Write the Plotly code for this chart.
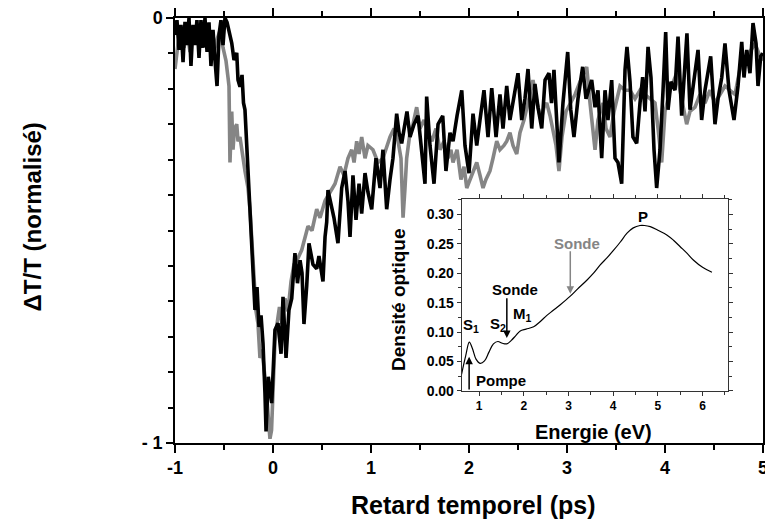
import plotly.graph_objects as go

# Main panel: pump-probe transients (normalised)

# black trace
t_black = [
    -1.000, -0.980, -0.959, -0.939, -0.918, -0.898, -0.878, -0.857, -0.837, -0.816,
    -0.796, -0.776, -0.755, -0.735, -0.714, -0.694, -0.673, -0.653, -0.633, -0.612,
    -0.592, -0.571, -0.551, -0.531, -0.510, -0.490, -0.469, -0.449, -0.421, -0.398,
    -0.370, -0.357, -0.337, -0.316, -0.301, -0.286, -0.268, -0.255, -0.235, -0.217,
    -0.201, -0.184, -0.163, -0.143, -0.122, -0.102, -0.082, -0.071, -0.048, -0.013,
    0.020, 0.051, 0.082, 0.102, 0.133, 0.163, 0.191, 0.224, 0.250, 0.276,
    0.296, 0.316, 0.344, 0.367, 0.408, 0.446, 0.469, 0.510, 0.531, 0.548,
    0.561, 0.599, 0.622, 0.663, 0.701, 0.735, 0.765, 0.786, 0.816, 0.847,
    0.878, 0.905, 0.939, 0.969, 1.007, 1.051, 1.092, 1.122, 1.160, 1.194,
    1.224, 1.262, 1.286, 1.313, 1.347, 1.367, 1.398, 1.439, 1.480, 1.510,
    1.551, 1.568, 1.602, 1.643, 1.684, 1.732, 1.765, 1.806, 1.837, 1.878,
    1.926, 1.959, 2.000, 2.041, 2.079, 2.112, 2.153, 2.194, 2.232, 2.276,
    2.316, 2.347, 2.385, 2.418, 2.459, 2.500, 2.538, 2.571, 2.602, 2.640,
    2.673, 2.704, 2.742, 2.776, 2.816, 2.842, 2.867, 2.893, 2.918, 2.959,
    3.007, 3.038, 3.071, 3.112, 3.160, 3.194, 3.252, 3.286, 3.316, 3.354,
    3.388, 3.418, 3.456, 3.490, 3.520, 3.558, 3.592, 3.612, 3.643, 3.673,
    3.711, 3.745, 3.772, 3.796, 3.827, 3.857, 3.888, 3.915, 3.949, 3.980,
    4.007, 4.031, 4.061, 4.102, 4.133, 4.170, 4.194, 4.224, 4.255, 4.296,
    4.337, 4.374, 4.408, 4.466, 4.510, 4.541, 4.579, 4.612, 4.653, 4.704,
    4.745, 4.783, 4.806, 4.834, 4.867, 4.898, 4.929, 4.949, 4.977, 5.000,
]
dt_black = [
    -0.040, -0.005, -0.075, -0.016, -0.104, -0.009, -0.064, 0.000, -0.113, -0.016,
    -0.064, -0.005, -0.094, -0.005, -0.070, 0.000, -0.080, -0.010, -0.113, -0.028,
    -0.099, -0.160, -0.040, -0.005, -0.064, 0.000, -0.010, -0.028, -0.059, -0.099,
    -0.082, -0.146, -0.162, -0.134, -0.200, -0.216, -0.294, -0.358, -0.452, -0.529,
    -0.609, -0.687, -0.633, -0.727, -0.700, -0.765, -0.882, -0.973, -0.844, -0.906,
    -0.734, -0.718, -0.790, -0.656, -0.800, -0.687, -0.660, -0.553, -0.624, -0.570,
    -0.600, -0.720, -0.630, -0.530, -0.580, -0.590, -0.560, -0.620, -0.515, -0.480,
    -0.405, -0.450, -0.470, -0.530, -0.400, -0.360, -0.430, -0.515, -0.370, -0.475,
    -0.390, -0.460, -0.365, -0.410, -0.450, -0.330, -0.400, -0.310, -0.450, -0.380,
    -0.330, -0.225, -0.270, -0.295, -0.250, -0.220, -0.280, -0.250, -0.230, -0.290,
    -0.390, -0.185, -0.300, -0.390, -0.250, -0.230, -0.360, -0.270, -0.290, -0.230,
    -0.170, -0.300, -0.365, -0.225, -0.300, -0.240, -0.170, -0.280, -0.165, -0.280,
    -0.180, -0.260, -0.160, -0.240, -0.190, -0.130, -0.240, -0.190, -0.120, -0.260,
    -0.155, -0.210, -0.260, -0.146, -0.130, -0.200, -0.122, -0.240, -0.340, -0.200,
    -0.080, -0.215, -0.280, -0.190, -0.115, -0.190, -0.146, -0.210, -0.170, -0.330,
    -0.170, -0.240, -0.146, -0.330, -0.340, -0.390, -0.122, -0.068, -0.150, -0.280,
    -0.295, -0.200, -0.139, -0.220, -0.068, -0.140, -0.310, -0.400, -0.310, -0.170,
    -0.033, -0.216, -0.150, -0.170, -0.044, -0.230, -0.150, -0.036, -0.216, -0.150,
    -0.075, -0.240, -0.170, -0.090, -0.250, -0.190, -0.140, -0.060, -0.170, -0.240,
    -0.160, -0.056, -0.140, -0.075, -0.130, -0.012, -0.060, -0.160, -0.090, -0.083,
]

# grey trace
t_grey = [
    -1.000, -0.969, -0.939, -0.908, -0.878, -0.847, -0.816, -0.786, -0.755, -0.724,
    -0.694, -0.663, -0.633, -0.602, -0.571, -0.541, -0.510, -0.480, -0.459, -0.449,
    -0.439, -0.421, -0.408, -0.393, -0.370, -0.357, -0.337, -0.319, -0.301, -0.286,
    -0.255, -0.235, -0.214, -0.194, -0.173, -0.153, -0.133, -0.112, -0.092, -0.071,
    -0.051, -0.031, -0.015, 0.000, 0.020, 0.041, 0.066, 0.092, 0.122, 0.153,
    0.184, 0.214, 0.245, 0.293, 0.327, 0.357, 0.398, 0.446, 0.480, 0.531,
    0.582, 0.633, 0.684, 0.724, 0.765, 0.803, 0.827, 0.854, 0.878, 0.905,
    0.939, 0.969, 1.020, 1.071, 1.122, 1.163, 1.194, 1.235, 1.276, 1.306,
    1.327, 1.347, 1.364, 1.398, 1.429, 1.466, 1.500, 1.541, 1.582, 1.622,
    1.663, 1.704, 1.745, 1.786, 1.816, 1.837, 1.878, 1.918, 1.949, 1.977,
    2.010, 2.041, 2.079, 2.112, 2.143, 2.173, 2.214, 2.245, 2.283, 2.316,
    2.357, 2.385, 2.418, 2.449, 2.487, 2.520, 2.561, 2.602, 2.653, 2.694,
    2.735, 2.765, 2.793, 2.827, 2.857, 2.888, 2.918, 2.949, 2.990, 3.031,
    3.082, 3.133, 3.201, 3.235, 3.265, 3.286, 3.316, 3.367, 3.398, 3.439,
    3.480, 3.541, 3.592, 3.643, 3.694, 3.745, 3.796, 3.847, 3.898, 3.929,
    3.966, 4.000, 4.051, 4.119, 4.153, 4.184, 4.221, 4.255, 4.306, 4.357,
    4.408, 4.459, 4.510, 4.561, 4.612, 4.663, 4.714, 4.765, 4.816, 4.867,
    4.918, 4.969, 5.000,
]
dt_grey = [
    -0.120, -0.060, -0.020, -0.070, -0.030, -0.080, -0.020, -0.060, -0.030, -0.070,
    -0.020, -0.060, -0.030, -0.080, -0.050, -0.030, -0.070, -0.100, -0.140, -0.160,
    -0.340, -0.220, -0.310, -0.260, -0.250, -0.290, -0.280, -0.310, -0.330, -0.360,
    -0.400, -0.450, -0.530, -0.620, -0.690, -0.720, -0.800, -0.780, -0.820, -0.870,
    -0.930, -0.990, -0.970, -0.850, -0.760, -0.720, -0.680, -0.720, -0.660, -0.690,
    -0.620, -0.580, -0.570, -0.546, -0.520, -0.490, -0.500, -0.450, -0.470, -0.430,
    -0.410, -0.390, -0.350, -0.370, -0.330, -0.310, -0.340, -0.290, -0.320, -0.280,
    -0.330, -0.300, -0.310, -0.340, -0.330, -0.300, -0.280, -0.260, -0.290, -0.330,
    -0.470, -0.400, -0.330, -0.270, -0.250, -0.210, -0.260, -0.240, -0.270, -0.290,
    -0.260, -0.310, -0.290, -0.330, -0.310, -0.340, -0.310, -0.380, -0.350, -0.400,
    -0.380, -0.360, -0.340, -0.370, -0.400, -0.380, -0.360, -0.330, -0.290, -0.310,
    -0.300, -0.290, -0.270, -0.300, -0.320, -0.270, -0.240, -0.200, -0.146, -0.200,
    -0.240, -0.210, -0.200, -0.230, -0.260, -0.300, -0.360, -0.280, -0.220, -0.200,
    -0.180, -0.150, -0.115, -0.200, -0.260, -0.310, -0.240, -0.200, -0.260, -0.280,
    -0.220, -0.160, -0.170, -0.170, -0.190, -0.170, -0.180, -0.190, -0.200, -0.260,
    -0.340, -0.220, -0.170, -0.130, -0.170, -0.210, -0.250, -0.220, -0.210, -0.180,
    -0.200, -0.170, -0.200, -0.180, -0.160, -0.170, -0.180, -0.120, -0.100, -0.080,
    -0.060, -0.090, -0.100,
]

# Inset: absorption spectrum
energy = [0.60, 0.70, 0.78, 0.85, 0.93, 1.02, 1.12, 1.22, 1.32, 1.42,
          1.52, 1.62, 1.72, 1.82, 1.92, 2.05, 2.22, 2.37, 2.51, 2.66,
          2.81, 3.04, 3.20, 3.41, 3.56, 3.71, 3.86, 4.01, 4.16, 4.31,
          4.45, 4.60, 4.70, 4.83, 5.00, 5.20, 5.35, 5.50, 5.65, 5.80,
          6.00, 6.21]
optical_density = [0.026, 0.060, 0.083, 0.072, 0.054, 0.047, 0.051, 0.066, 0.080, 0.084,
                   0.081, 0.080, 0.086, 0.094, 0.102, 0.105, 0.109, 0.118, 0.128, 0.137,
                   0.146, 0.161, 0.173, 0.188, 0.200, 0.214, 0.226, 0.239, 0.253, 0.268,
                   0.277, 0.281, 0.281, 0.279, 0.273, 0.265, 0.256, 0.245, 0.234, 0.222,
                   0.210, 0.2015]

time_ticks = [-1, 0, 1, 2, 3, 4, 5]
time_labels = ["-1", "0", "1", "2", "3", "4", "5"]

BLACK = "#000000"
GREY = "#858585"
FONT = "Liberation Sans, Arial, sans-serif"

fig = go.Figure()
fig.add_trace(go.Scatter(x=t_grey, y=dt_grey, mode="lines",
                         line=dict(color=GREY, width=3.6), xaxis="x", yaxis="y"))
fig.add_trace(go.Scatter(x=t_black, y=dt_black, mode="lines",
                         line=dict(color=BLACK, width=3.6), xaxis="x", yaxis="y"))
fig.add_trace(go.Scatter(x=energy, y=optical_density, mode="lines", line_shape="spline",
                         line=dict(color=BLACK, width=1.2), xaxis="x2", yaxis="y2"))

main_axis = dict(showline=True, linecolor=BLACK, linewidth=1.5, mirror="ticks",
                 ticks="outside", tickcolor=BLACK, tickwidth=1.5, showgrid=False,
                 zeroline=False, automargin=False, ticklabeloverflow="allow",
                 tickfont=dict(family=FONT, size=18, color=BLACK, weight="bold"))

inset_axis = dict(showline=True, linecolor="#333333", linewidth=1, mirror="ticks",
                  ticks="outside", tickcolor="#333333", tickwidth=1, ticklen=4,
                  showgrid=False, zeroline=False, automargin=False)

fig.update_layout(
    width=765, height=527,
    margin=dict(l=175, r=2, t=18, b=84, autoexpand=False),
    paper_bgcolor="white", plot_bgcolor="white",
    showlegend=False,
    xaxis=dict(main_axis, range=[-1, 5], tickvals=time_ticks, ticktext=time_labels, ticklen=8,
               minor=dict(dtick=0.5, ticklen=5, ticks="outside", tickcolor=BLACK, tickwidth=1.5)),
    yaxis=dict(main_axis, range=[-1, 0], tickvals=[0, -1], ticktext=["0", "- 1"], ticklen=7,
               minor=dict(tickvals=[-k / 12 for k in range(13)], ticklen=5, ticks="outside",
                          tickcolor=BLACK, tickwidth=1.5)),
    xaxis2=dict(inset_axis, domain=[0.4876, 0.9405], anchor="y2", range=[0.61, 6.57],
                dtick=1, tick0=0,
                tickfont=dict(family=FONT, size=12, color=BLACK, weight="bold"),
                minor=dict(dtick=0.5, ticklen=3, ticks="outside", tickcolor="#333333")),
    yaxis2=dict(inset_axis, domain=[0.1224, 0.5741], anchor="x2", range=[0, 0.326],
                dtick=0.05, tick0=0, tickformat=".2f",
                tickfont=dict(family=FONT, size=14, color=BLACK, weight="bold"),
                minor=dict(dtick=0.025, ticklen=3, ticks="outside", tickcolor="#333333")),
)

def label(text, x, y, size, color=BLACK, ref="paper", angle=0):
    xr, yr = ("paper", "paper") if ref == "paper" else ("x2", "y2")
    fig.add_annotation(text=f"<b>{text}</b>", x=x, y=y, xref=xr, yref=yr,
                       showarrow=False, textangle=angle, xanchor="center", yanchor="middle",
                       font=dict(family=FONT, size=size, color=color))

def arrow(x, y_tail, y_head, color):
    fig.add_annotation(x=x, y=y_head, ax=x, ay=y_tail, xref="x2", yref="y2",
                       axref="x2", ayref="y2", text="", showarrow=True,
                       arrowhead=2, arrowsize=1, arrowwidth=1.5, arrowcolor=color)

# axis titles
label("Retard temporel (ps)", 0.507, -0.146, 25)
label("ΔT/T (normalisé)", -0.2423, 0.532, 24, angle=-90)
label("Densité optique", 0.381, 0.3365, 19, angle=-90)
label("Energie (eV)", 0.711, 0.026, 20)

# inset annotations
label("P", 4.66, 0.296, 15, ref="data")
label("Sonde", 3.19, 0.251, 15, color=GREY, ref="data")
label("Sonde", 1.81, 0.1715, 15, ref="data")
label("S<sub>1</sub>", 0.82, 0.112, 15, ref="data")
label("S<sub>2</sub>", 1.42, 0.113, 15, ref="data")
label("M<sub>1</sub>", 1.98, 0.130, 15, ref="data")
label("Pompe", 1.49, 0.0175, 15, ref="data")
arrow(3.04, 0.240, 0.165, GREY)
arrow(1.62, 0.160, 0.090, BLACK)
arrow(0.776, 0.0, 0.058, BLACK)

# the page body has a default 8px margin; drop it so the figure fills the window
fig.write_html("out.html", config={"displayModeBar": False},
               post_script="document.body.style.margin = '0';")
